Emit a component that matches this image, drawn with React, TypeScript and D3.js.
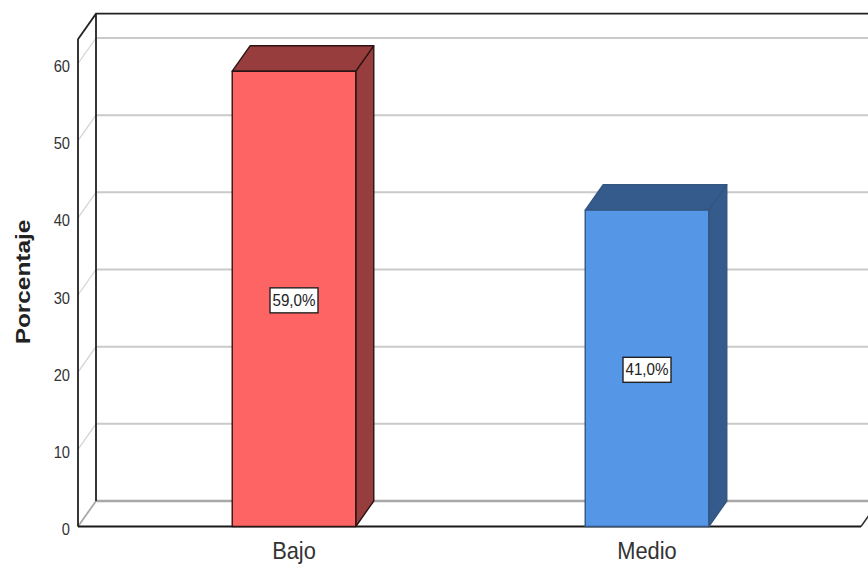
import React from "react";
import * as d3 from "d3";

const categories = ["Bajo", "Medio"];
const percentages = [59, 41];
const valueLabels = ["59,0%", "41,0%"];
const barColors = ["#ff6464", "#5596e6"];
const sideColors = ["#983d3d", "#345b8c"];
const barStrokes = ["#2a1414", "#33557f"];
const yTicks = [0, 10, 20, 30, 40, 50, 60];
const yTitle = "Porcentaje";

const W = 868, H = 565;
const DX = 18, DY = -25.5;
const y = d3.scaleLinear().domain([0, 60]).range([526.5, 63.5]);
const x = d3.scaleBand<string>().domain(categories).range([117.5, 823.5]).paddingInner(0.65).paddingOuter(0.325);
const left = 78, right = 861, top = y(63.15);
const font = "'Liberation Sans', Arial, sans-serif";

const poly = (pts: [number, number][]) => pts.map(p => p.join(",")).join(" ");

export default function App() {
  return (
    <svg width={W} height={H} style={{ position: "fixed", left: 0, top: 0, background: "#fff" }}>
      {/* grid on back and side walls */}
      {yTicks.slice(1).map(t => (
        <g key={t}>
          <line x1={left} x2={left + DX} y1={y(t)} y2={y(t) + DY} stroke="#d4d4d4" strokeWidth={1.3} />
          <line x1={left + DX} x2={W} y1={y(t) + DY} y2={y(t) + DY} stroke="#cacaca" strokeWidth={2} />
        </g>
      ))}
      {/* floor */}
      <line x1={left + DX} x2={W} y1={y(0) + DY} y2={y(0) + DY} stroke="#a8a8a8" strokeWidth={2.4} />
      <line x1={left} x2={left + DX} y1={y(0)} y2={y(0) + DY} stroke="#a8a8a8" strokeWidth={1.8} />
      <line x1={right} x2={right + DX} y1={y(0)} y2={y(0) + DY} stroke="#333" strokeWidth={1.5} />
      {/* frame */}
      <path
        d={`M${left},${y(0)}V${top}L${left + DX},${top + DY}H${W}M${left + DX},${top + DY}V${y(0) + DY}`}
        fill="none" stroke="#222" strokeWidth={1.8}
      />
      <line x1={left} x2={right} y1={y(0)} y2={y(0)} stroke="#1a1a1a" strokeWidth={2} />
      {/* bars */}
      {categories.map((c, i) => {
        const x0 = x(c)!, x1 = x0 + x.bandwidth(), yt = y(percentages[i]), yb = y(0);
        return (
          <g key={c} stroke={barStrokes[i]} strokeWidth={1.4} strokeLinejoin="round">
            <polygon fill={sideColors[i]} points={poly([[x1, yt], [x1 + DX, yt + DY], [x1 + DX, yb + DY], [x1, yb]])} />
            <polygon fill={sideColors[i]} points={poly([[x0, yt], [x0 + DX, yt + DY], [x1 + DX, yt + DY], [x1, yt]])} />
            <rect x={x0} y={yt} width={x.bandwidth()} height={yb - yt} fill={barColors[i]} />
          </g>
        );
      })}
      {/* value labels */}
      {categories.map((c, i) => {
        const cx = x(c)! + x.bandwidth() / 2, cy = (y(percentages[i]) + y(0)) / 2 + 1;
        return (
          <g key={c}>
            <rect x={cx - 24} y={cy - 12} width={48} height={25} fill="#fff" stroke="#222" strokeWidth={1.4} />
            <text transform={`translate(${cx},${cy + 6}) scale(0.95,1)`} textAnchor="middle" fontFamily={font} fontSize={16} fill="#222">{valueLabels[i]}</text>
          </g>
        );
      })}
      {/* y ticks */}
      {yTicks.map(t => (
        <text key={t} transform={`translate(70,${y(t) + 8.5}) scale(0.92,1)`} textAnchor="end" fontFamily={font} fontSize={16} fill="#333">{t}</text>
      ))}
      {/* x labels */}
      {categories.map(c => (
        <text key={c} transform={`translate(${x(c)! + x.bandwidth() / 2},559) scale(0.91,1)`} textAnchor="middle" fontFamily={font} fontSize={24} fill="#333">{c}</text>
      ))}
      <text transform="translate(30,282) rotate(-90) scale(1.22,1)" textAnchor="middle" fontFamily={font} fontSize={20} fontWeight="bold" fill="#222">{yTitle}</text>
    </svg>
  );
}
